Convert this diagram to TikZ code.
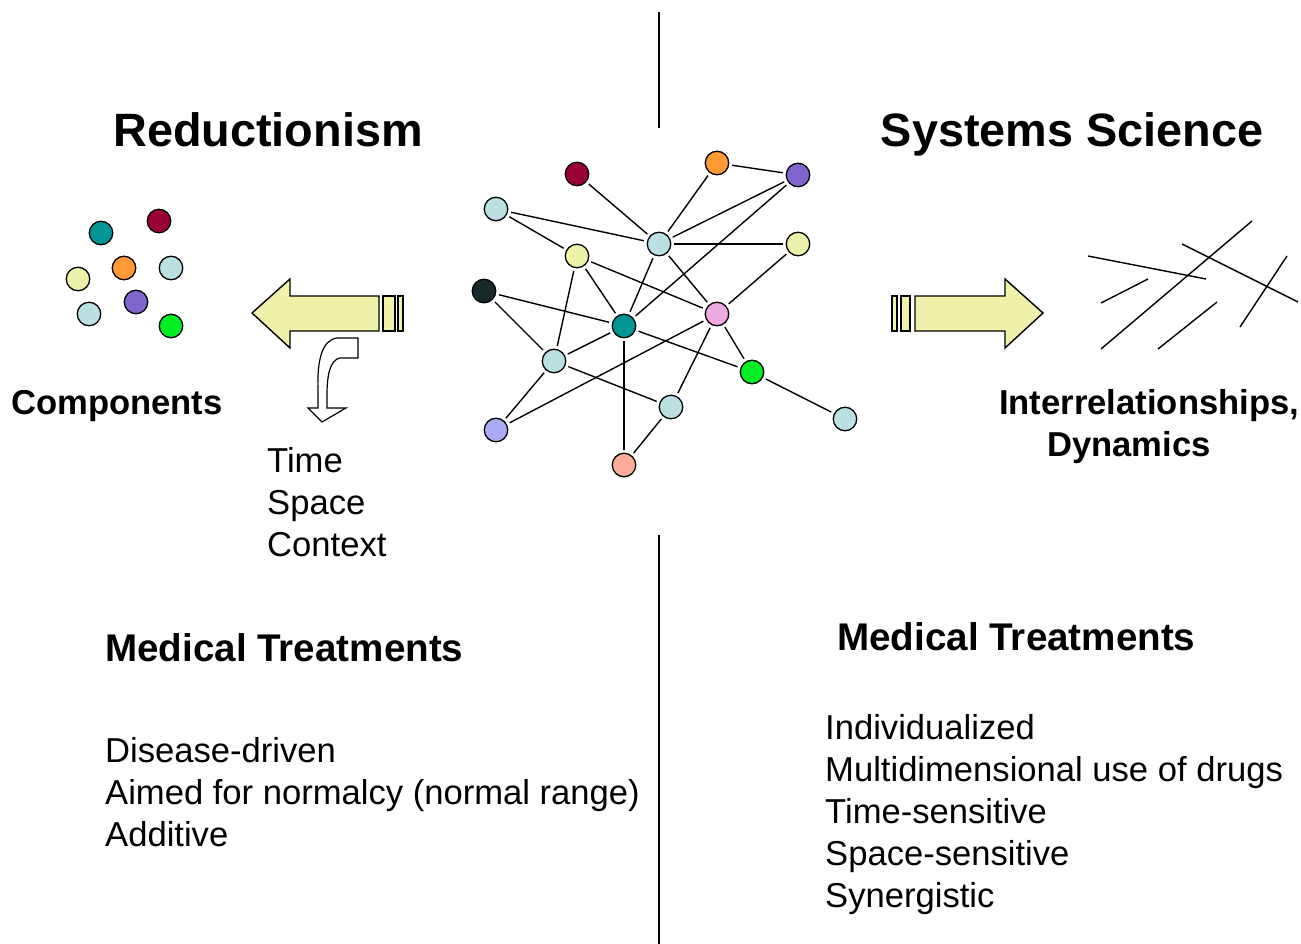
\documentclass[tikz,border=0pt]{standalone}
\usepackage{fontspec}
\setmainfont{Liberation Sans}
\usepackage{xcolor}
\definecolor{lblue}{RGB}{187,224,227}
\definecolor{cteal}{RGB}{0,150,150}
\definecolor{cmaroon}{RGB}{153,0,51}
\definecolor{corange}{RGB}{255,153,51}
\definecolor{cpurple}{RGB}{128,102,204}
\definecolor{cyellow}{RGB}{236,242,170}
\definecolor{cdark}{RGB}{22,42,42}
\definecolor{cpink}{RGB}{238,170,226}
\definecolor{cgreen}{RGB}{0,238,34}
\definecolor{clavender}{RGB}{170,170,245}
\definecolor{csalmon}{RGB}{255,170,155}
\definecolor{arrowfill}{RGB}{240,242,170}

\begin{document}
\begin{tikzpicture}[x=1pt,y=-1pt]
			\tikzset{vertex/.style = {shape=circle,draw,line width=1.3pt,minimum size=23.5pt,inner sep=0pt}}
			\tikzset{edge/.style = {line width=1.4pt,shorten <=3pt,shorten >=3pt}}
			\tikzset{block/.style = {draw,line width=1.4pt,fill=arrowfill,line join=miter}}
			\tikzset{title/.style = {font=\fontsize{46.8}{50}\selectfont\bfseries,anchor=base,inner sep=0pt}}
			\tikzset{label/.style = {font=\fontsize{34.6}{42}\selectfont\bfseries,inner sep=0pt}}
			\tikzset{head/.style = {font=\fontsize{38.6}{44}\selectfont\bfseries,anchor=base west,inner sep=0pt}}
			\tikzset{item/.style = {font=\fontsize{34.6}{42}\selectfont,anchor=base west,inner sep=0pt}}
			\useasboundingbox (0,0) rectangle (1301,944);
			% dividers
			\coordinate (t1) at (659,12);
			\coordinate (t2) at (659,128);
			\coordinate (b1) at (659,535);
			\coordinate (b2) at (659,944);
			\draw[line width=1.2pt] (t1) -- (t2);
			\draw[line width=1.2pt] (b1) -- (b2);
			% titles
			\node[title] (red) at (268,147) {Reductionism};
			\node[title] (sys) at (1072,147) {Systems Science};
			% loose components
			\node[vertex,fill=cteal] (c1) at (101,233) {};
			\node[vertex,fill=cmaroon] (c2) at (159,221) {};
			\node[vertex,fill=corange] (c3) at (124,268) {};
			\node[vertex,fill=lblue] (c4) at (171,268) {};
			\node[vertex,fill=cyellow] (c5) at (78,279) {};
			\node[vertex,fill=lblue] (c6) at (89,314) {};
			\node[vertex,fill=cpurple] (c7) at (136,302) {};
			\node[vertex,fill=cgreen] (c8) at (171,326) {};
			\node[label,anchor=base] (comp) at (117,414) {Components};
			% left arrow
			\draw[block] (252,313) -- (290,279) -- (290,296) -- (379,296) -- (379,331)
				-- (290,331) -- (290,348) -- cycle;
			\draw[block] (383,296) rectangle (395,331);
			\draw[block] (398,296) rectangle (403,331);
			\draw[line width=1.2pt,fill=white,line join=miter] (358,338) -- (358,358) -- (340,358)
				.. controls (330,360) and (327,375) .. (327,395) -- (327,408) -- (346,408)
				-- (322,422) -- (308,408) -- (318,408) -- (318,390)
				.. controls (317,360) and (322,340) .. (337,338) -- cycle;
			\foreach \t [count=\i from 0] in {Time,Space,Context}
				\node[item] (tsc\i) at (267,472+42*\i) {\t};
			% network vertices
			\node[vertex,fill=cmaroon] (a) at (577,174) {};
			\node[vertex,fill=corange] (b) at (717,163) {};
			\node[vertex,fill=cpurple] (c) at (798,175) {};
			\node[vertex,fill=lblue] (d) at (496,209) {};
			\node[vertex,fill=lblue] (e) at (659,244) {};
			\node[vertex,fill=cyellow] (f) at (798,244) {};
			\node[vertex,fill=cyellow] (g) at (577,256) {};
			\node[vertex,fill=cdark] (h) at (484,291) {};
			\node[vertex,fill=cteal] (i) at (624,326) {};
			\node[vertex,fill=cpink] (j) at (717,314) {};
			\node[vertex,fill=lblue] (k) at (554,361) {};
			\node[vertex,fill=cgreen] (l) at (752,372) {};
			\node[vertex,fill=lblue] (m) at (671,407) {};
			\node[vertex,fill=lblue] (n) at (845,419) {};
			\node[vertex,fill=clavender] (o) at (496,430) {};
			\node[vertex,fill=csalmon] (p) at (624,465) {};
			%edges
			\foreach \u/\v in {a/e,b/e,b/c,c/e,c/i,d/e,d/g,e/f,e/i,e/j,g/k,g/i,g/j,f/j,
				h/i,h/k,i/k,i/l,i/p,j/l,j/o,j/m,k/o,k/m,m/p,l/n}
				\draw[edge] (\u) -- (\v);
			% right arrow
			\draw[block] (892,296) rectangle (897,331);
			\draw[block] (901,296) rectangle (910,331);
			\draw[block] (915,296) -- (1005,296) -- (1005,279) -- (1043,313) -- (1005,348)
				-- (1005,331) -- (915,331) -- cycle;
			% interrelated strokes
			\draw[line width=1.4pt] (1088,256) -- (1206,279);
			\draw[line width=1.4pt] (1101,303) -- (1148,279);
			\draw[line width=1.4pt] (1101,349) -- (1252,221);
			\draw[line width=1.4pt] (1182,244) -- (1298,302);
			\draw[line width=1.4pt] (1158,349) -- (1217,302);
			\draw[line width=1.4pt] (1240,327) -- (1287,256);
			\node[label,anchor=base west] (inter) at (999,414) {Interrelationships,};
			\node[label,anchor=base] (dyn) at (1129,456) {Dynamics};
			% treatments
			\node[head] (medl) at (105,661) {Medical Treatments};
			\node[head] (medr) at (837,650) {Medical Treatments};
			\foreach \t [count=\i from 0] in {Disease-driven,Aimed for normalcy (normal range),Additive}
				\node[item] (l\i) at (105,762+42*\i) {\t};
			\foreach \t [count=\i from 0] in {Individualized,Multidimensional use of drugs,
				Time-sensitive,Space-sensitive,Synergistic}
				\node[item] (r\i) at (825,739+42*\i) {\t};
\end{tikzpicture}
\end{document}
